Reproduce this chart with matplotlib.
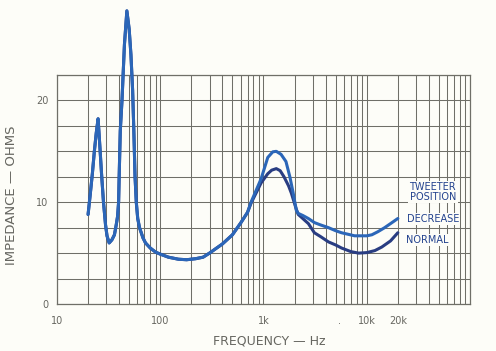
import matplotlib
matplotlib.use("Agg")
import matplotlib.pyplot as plt
from matplotlib.ticker import MultipleLocator, LogLocator, NullFormatter

# ---- data ----
freq_normal = [20, 21, 22, 23, 24, 25, 26, 27, 28.2, 29.5, 30.5, 32, 34, 36, 37.5, 38.6,
               39.5, 40, 41, 42.6, 45, 47.5, 50, 52, 54, 55.5, 57, 58.6, 60.5, 63, 68,
               72, 80, 90, 100, 120, 150, 180, 220, 260, 300, 330, 400, 500, 605, 700,
               757, 948, 1100, 1200, 1330, 1450, 1580, 1750, 1860, 2080, 2170, 2400,
               2720, 3110, 3600, 4260, 5000, 5700, 7000, 8340, 10000, 12000, 14000,
               17000, 20000]
imp_normal = [8.8, 10.8, 12.8, 15.0, 16.8, 18.2, 15.5, 12.8, 10.0, 7.8, 6.7, 6.0, 6.3, 6.8,
              7.8, 8.6, 10.0, 12.5, 17.0, 20.0, 25.5, 28.8, 27.0, 24.5, 21.0, 17.0, 12.5,
              10.0, 8.4, 7.5, 6.5, 6.0, 5.5, 5.1, 4.9, 4.6, 4.4, 4.35, 4.45, 4.6, 5.0,
              5.3, 5.9, 6.8, 8.0, 9.0, 9.9, 11.9, 12.8, 13.15, 13.3, 13.1, 12.5, 11.6,
              10.9, 9.3, 8.8, 8.4, 7.9, 7.0, 6.6, 6.1, 5.8, 5.5, 5.15, 5.0, 5.05, 5.25,
              5.6, 6.2, 7.0]

freq_decrease = [20, 21, 22, 23, 24, 25, 26, 27, 28.2, 29.5, 30.5, 32, 34, 36, 37.5, 38.6,
                 39.5, 40, 41, 42.6, 45, 47.5, 50, 52, 54, 55.5, 57, 58.6, 60.5, 63, 68,
                 72, 80, 90, 100, 120, 150, 180, 220, 260, 300, 330, 400, 500, 605, 700,
                 757, 948, 1100, 1230, 1330, 1480, 1650, 1800, 1930, 2080, 2170, 2400,
                 2720, 3110, 3500, 4260, 5000, 5700, 6600, 7630, 9000, 10000, 11200,
                 12800, 14900, 17000, 20000]
imp_decrease = [8.8, 10.8, 12.8, 15.0, 16.8, 18.2, 15.5, 12.8, 10.0, 7.8, 6.7, 6.0, 6.3, 6.8,
                7.8, 8.6, 10.0, 12.5, 17.0, 20.0, 25.5, 28.8, 27.0, 24.5, 21.0, 17.0, 12.5,
                10.0, 8.4, 7.5, 6.5, 6.0, 5.5, 5.1, 4.9, 4.6, 4.4, 4.35, 4.45, 4.6, 5.0,
                5.3, 5.9, 6.8, 8.0, 9.0, 10.0, 12.3, 14.4, 14.95, 15.0, 14.7, 14.0, 12.5,
                11.0, 9.2, 8.9, 8.7, 8.4, 8.0, 7.8, 7.5, 7.2, 7.0, 6.85, 6.7, 6.7, 6.7,
                6.8, 7.1, 7.5, 7.9, 8.4]

x_tick_vals = [10, 100, 1000, 5400, 10000, 20000]
x_tick_labels = ["10", "100", "1k", ".", "10k", "20k"]
y_tick_vals = [0, 10, 20]
y_tick_labels = ["0", "10", "20"]

# ---- styling ----
bg = "#fdfdf8"
grid_c = "#6f6f68"
text_c = "#666660"
c_decrease = "#2b66b8"
c_normal = "#293d82"
label_c = "#23428e"

fig = plt.figure(figsize=(4.96, 3.51), dpi=100, facecolor=bg)
ax = fig.add_axes([57/496, 47/351, 413/496, 229/351])
ax.set_facecolor(bg)

ax.set_xscale("log")
ax.set_xlim(10, 1e5)
ax.set_ylim(0, 22.5)

ax.set_xticks(x_tick_vals)
ax.set_xticklabels(x_tick_labels)
ax.xaxis.set_minor_locator(LogLocator(base=10, subs=tuple(range(2, 10))))
ax.xaxis.set_minor_formatter(NullFormatter())
ax.set_yticks(y_tick_vals)
ax.set_yticklabels(y_tick_labels)
ax.yaxis.set_minor_locator(MultipleLocator(2.5))
ax.grid(True, which="both", axis="both", color=grid_c, linewidth=0.75)
ax.set_axisbelow(True)
ax.tick_params(which="both", length=0, colors=text_c, labelsize=7)
ax.tick_params(axis="x", pad=9)
ax.tick_params(axis="y", pad=6)
# hide the grid line of the "." pseudo tick (not a real grid line)
for gl, v in zip(ax.xaxis.get_gridlines(), x_tick_vals):
    if v == 5400:
        gl.set_visible(False)

for s in ax.spines.values():
    s.set_color(grid_c)
    s.set_linewidth(0.9)

ax.plot(freq_normal, imp_normal, color=c_normal, lw=2.2, clip_on=False,
        solid_joinstyle="round", solid_capstyle="round", zorder=3)
ax.plot(freq_decrease, imp_decrease, color=c_decrease, lw=2.2, clip_on=False,
        solid_joinstyle="round", solid_capstyle="round", zorder=4)

box = dict(facecolor=bg, edgecolor="none", pad=1.0)
ax.text(0.910, 0.489, "TWEETER\nPOSITION", transform=ax.transAxes, ha="center",
        va="center", fontsize=7, color=label_c, linespacing=0.95, bbox=box, zorder=5)
ax.text(0.910, 0.371, "DECREASE", transform=ax.transAxes, ha="center", va="center",
        fontsize=7, color=label_c, bbox=box, zorder=5)
ax.text(0.845, 0.279, "NORMAL", transform=ax.transAxes, ha="left", va="center",
        fontsize=7, color=label_c, bbox=box, zorder=5)

ax.set_xlabel("FREQUENCY — Hz", fontsize=9, color=text_c)
ax.xaxis.set_label_coords(0.513, -0.135)
ax.set_ylabel("IMPEDANCE — OHMS", fontsize=9.5, color=text_c)
ax.yaxis.set_label_coords(-0.095, 0.476)

fig.savefig("out.png", dpi=100, facecolor=bg)
